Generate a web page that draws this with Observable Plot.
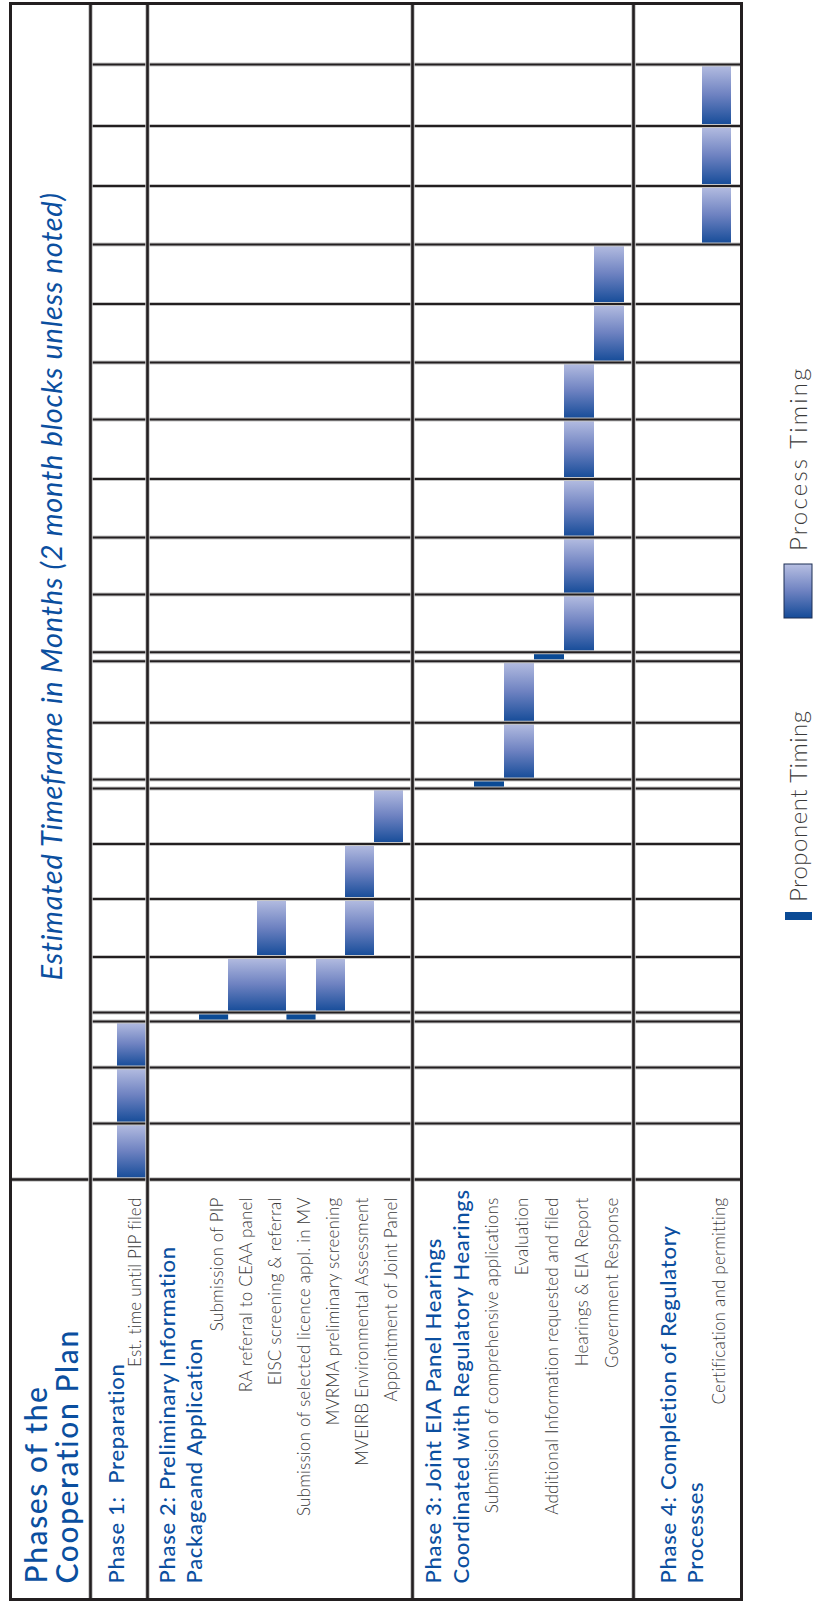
<!DOCTYPE html>
<html>
<head>
<meta charset="utf-8">
<script src="https://cdn.jsdelivr.net/npm/d3@7"></script>
<script src="https://cdn.jsdelivr.net/npm/@observablehq/plot@0.6"></script>
<style>
  html, body { margin: 0; padding: 0; background: #fff; }
  #wrap { position: relative; width: 814px; height: 1601px; }
  #legend { position: absolute; left: 0; top: 0; pointer-events: none; }
</style>
</head>
<body>
<div id="wrap"></div>
<script>
// ---------------- DATA ----------------
const headerTitle = "Phases of the\nCooperation Plan";
const timeTitle = "Estimated Timeframe in Months (2 month blocks unless noted)";

const phaseTitles = [
  "Phase 1:  Preparation",
  "Phase 2: Preliminary Information\nPackageand Application",
  "Phase 3: Joint EIA Panel Hearings\nCoordinated with Regulatory Hearings",
  "Phase 4: Completion of Regulatory\nProcesses"
];

const taskNames = [
  "Est. time until PIP filed",
  "Submission of PIP",
  "RA referral to CEAA panel",
  "EISC screening & referral",
  "Submission of selected licence appl. in MV",
  "MVRMA preliminary screening",
  "MVEIRB Environmental Assessment",
  "Appointment of Joint Panel",
  "Submission of comprehensive applications",
  "Evaluation",
  "Additional Information requested and filed",
  "Hearings & EIA Report",
  "Government Response",
  "Certification and permitting"
];
const taskPhase = [1, 2, 2, 2, 2, 2, 2, 2, 3, 3, 3, 3, 3, 4];

// Process timing: 2-month blocks (months from start)
const processTask = [
  "Est. time until PIP filed", "Est. time until PIP filed", "Est. time until PIP filed",
  "RA referral to CEAA panel",
  "EISC screening & referral", "EISC screening & referral",
  "MVRMA preliminary screening",
  "MVEIRB Environmental Assessment", "MVEIRB Environmental Assessment",
  "Appointment of Joint Panel",
  "Evaluation", "Evaluation",
  "Hearings & EIA Report", "Hearings & EIA Report", "Hearings & EIA Report", "Hearings & EIA Report", "Hearings & EIA Report",
  "Government Response", "Government Response",
  "Certification and permitting", "Certification and permitting", "Certification and permitting"
];
const processStart = [0, 2, 4, 6, 6, 8, 6, 8, 10, 12, 14, 16, 18, 20, 22, 24, 26, 28, 30, 32, 34, 36];
const processEnd   = [2, 4, 6, 8, 8, 10, 8, 10, 12, 14, 16, 18, 20, 22, 24, 26, 28, 30, 32, 34, 36, 38];

// Proponent timing: steps taken by the proponent between blocks
const proponentTask = [
  "Submission of PIP",
  "Submission of selected licence appl. in MV",
  "Submission of comprehensive applications",
  "Additional Information requested and filed"
];
const proponentMonth = [6, 6, 14, 18];

// Block edges of the time grid (months) and the breaks holding proponent steps
const blockEdges = [0, 2, 4, 6, 8, 10, 12, 14, 16, 18, 20, 22, 24, 26, 28, 30, 32, 34, 36, 38, 40];
const breakMonths = [6, 14, 18];

const legendLabels = ["Process Timing", "Proponent Timing"];

// ---------------- LAYOUT / STYLE ----------------
const blue = "#0b4f9f";
const labelGrey = "#3a3a3a";
const lineDark = "#231f20";
const halo = "#c4c4c4";
const propBlue = "#0a4a95";

const layout = {
  // x: lane units -> pixels (piecewise)
  xDomain: [-3.6, -0.9, 0, 1, 2, 9, 9.13, 10, 15, 15.12, 16, 17, 17.34],
  xRange:  [10, 90, 117, 147, 199, 403, 412, 474, 624, 633, 702, 731, 741],
  // y: months -> pixels (piecewise, following the uneven block heights)
  yRange: [1179, 1123, 1067, 1016.6, 956.4, 898.6, 843.6, 783.5, 722.3, 656.2, 594,
           537, 478.5, 419, 362, 303.5, 244, 185.5, 125.5, 64, 3.3],
  colBorders: [-0.9, 1, 9.13, 15.12],
  gridLeft: -0.9, gridRight: 17.34,
  gap: 4.5,
  headerX: -2.17, timeTitleX: -2.17,
  phaseTitleX: [-0.07, 1.62, 9.6, 15.72]
};

// lane index of each task (phases separated by one spacer lane)
const laneOf = new Map(taskNames.map((t, i) => [t, i + taskPhase[i] - 1]));

const processData = processTask.map((t, i) => ({
  task: t, lane: laneOf.get(t), start: processStart[i], end: processEnd[i]
}));
const proponentData = proponentTask.map((t, i) => ({
  task: t, lane: laneOf.get(t), month: proponentMonth[i]
}));

const isBreak = m => breakMonths.includes(m);
const procNormal = processData.filter(d => !isBreak(d.start) && !isBreak(d.end));
const procAfterBreak = processData.filter(d => isBreak(d.start));
const procBeforeBreak = processData.filter(d => isBreak(d.end) && !isBreak(d.start));

const innerEdges = blockEdges.filter(m => m > 0 && m < d3.max(blockEdges) && !isBreak(m));
const midMonth = d3.mean(d3.extent(blockEdges));

const gradId = "procGrad";
function defsMark() {
  const g = d3.create("svg:g");
  const lg = g.append("defs").append("linearGradient")
    .attr("id", gradId).attr("x1", 0).attr("y1", 0).attr("x2", 0).attr("y2", 1);
  lg.append("stop").attr("offset", 0).attr("stop-color", "#b7bfe2");
  lg.append("stop").attr("offset", 0.5).attr("stop-color", "#6e82c1");
  lg.append("stop").attr("offset", 1).attr("stop-color", "#144b98");
  return g.node();
}

const gridRule = (data, opts, w) => [
  Plot.ruleY(data, {...opts, stroke: halo, strokeWidth: w + 2}),
  Plot.ruleY(data, {...opts, stroke: lineDark, strokeWidth: w})
];

const rectOpts = {x1: "lane", x2: d => d.lane + 1, y1: "start", y2: "end",
                  fill: `url(#${gradId})`, shapeRendering: "crispEdges"};

const chart = Plot.plot({
  width: 814,
  height: 1601,
  marginLeft: 10, marginRight: 73, marginTop: 3, marginBottom: 2,
  x: {type: "linear", domain: layout.xDomain, range: layout.xRange, axis: null},
  y: {type: "linear", domain: blockEdges, range: layout.yRange, axis: null},
  style: {fontFamily: "Lato, 'Open Sans', sans-serif", background: "#fff", overflow: "visible"},
  marks: [
    defsMark,
    // process timing blocks
    Plot.rect(procNormal, rectOpts),
    Plot.rect(procAfterBreak, {...rectOpts, insetBottom: layout.gap}),
    Plot.rect(procBeforeBreak, {...rectOpts, insetTop: layout.gap}),
    // proponent timing steps
    Plot.ruleY(proponentData, {y: "month", x1: "lane", x2: d => d.lane + 1, stroke: propBlue, strokeWidth: 2 * layout.gap}),
    // grid
    ...gridRule(innerEdges, {x1: layout.gridLeft, x2: layout.gridRight}, 2),
    ...gridRule(breakMonths, {x1: layout.gridLeft, x2: layout.gridRight, dy: -layout.gap}, 2),
    ...gridRule(breakMonths, {x1: layout.gridLeft, x2: layout.gridRight, dy: layout.gap}, 2),
    ...gridRule([d3.min(blockEdges)], {}, 2.5),
    Plot.ruleX(layout.colBorders, {stroke: halo, strokeWidth: 4.5}),
    Plot.ruleX(layout.colBorders, {stroke: lineDark, strokeWidth: 2.6}),
    Plot.frame({stroke: lineDark, strokeWidth: 3}),
    // texts
    Plot.text([headerTitle], {
      text: d => d, x: layout.headerX, frameAnchor: "bottom", dy: -16,
      rotate: -90, textAnchor: "start", lineAnchor: "middle", lineHeight: 1.02,
      fontSize: 30, fontWeight: 500, fill: blue, ariaLabel: () => "header-title"
    }),
    Plot.text([timeTitle], {
      text: d => d, x: layout.timeTitleX, y: midMonth, dy: -8,
      rotate: -90, textAnchor: "middle", lineAnchor: "middle",
      fontSize: 29, fontStyle: "italic", fill: blue, ariaLabel: () => "time-title"
    }),
    Plot.text(phaseTitles, {
      text: d => d, x: (d, i) => layout.phaseTitleX[i], frameAnchor: "bottom", dy: -16,
      rotate: -90, textAnchor: "start", lineAnchor: "middle", lineHeight: 1.25,
      fontSize: 22, fontWeight: 500, fill: blue, ariaLabel: () => "phase-title"
    }),
    Plot.text(taskNames, {
      text: d => d, x: d => laneOf.get(d) + 0.5, y: d3.min(blockEdges), dy: 18, dx: 3,
      rotate: -90, textAnchor: "end", lineAnchor: "middle",
      fontSize: 17, fontWeight: 300, fill: labelGrey, ariaLabel: () => "task-label"
    })
  ]
});

document.getElementById("wrap").appendChild(chart);
const spacing = {"header-title": "1.6px", "time-title": "0.7px", "phase-title": "0.7px", "task-label": "0.2px"};
d3.select(chart).selectAll("text").each(function() {
  const el = this;
  const own = el.getAttribute("aria-label");
  const parent = el.parentNode && el.parentNode.getAttribute ? el.parentNode.getAttribute("aria-label") : null;
  const key = spacing[own] ? own : (spacing[parent] ? parent : null);
  if (key) el.setAttribute("letter-spacing", spacing[key]);
});

// ---------------- LEGEND (right side, rotated like the table) ----------------
const lg = d3.select("#wrap").append("svg").attr("id", "legend")
  .attr("width", 814).attr("height", 1601);
const lgDefs = lg.append("defs").append("linearGradient")
  .attr("id", "legGrad").attr("x1", 0).attr("y1", 0).attr("x2", 0).attr("y2", 1);
lgDefs.append("stop").attr("offset", 0).attr("stop-color", "#b7bfe2");
lgDefs.append("stop").attr("offset", 0.5).attr("stop-color", "#6e82c1");
lgDefs.append("stop").attr("offset", 1).attr("stop-color", "#144b98");

const legendItems = [
  {label: legendLabels[0], sx: 784, sy: 564, sw: 28, sh: 54, fill: "url(#legGrad)", stroke: "#1d2f55", ty: 551, ls: "2.2px"},
  {label: legendLabels[1], sx: 785, sy: 912, sw: 27, sh: 8, fill: propBlue, stroke: "none", ty: 902, ls: "0.5px"}
];
legendItems.forEach(it => {
  lg.append("rect").attr("x", it.sx).attr("y", it.sy).attr("width", it.sw).attr("height", it.sh)
    .attr("fill", it.fill).attr("stroke", it.stroke).attr("stroke-width", 1);
  lg.append("text").text(it.label)
    .attr("transform", `translate(799,${it.ty}) rotate(-90)`)
    .attr("dy", "0.32em")
    .attr("font-family", "Lato, 'Open Sans', sans-serif")
    .attr("font-size", 24).attr("font-weight", 300)
    .attr("letter-spacing", it.ls)
    .attr("fill", labelGrey);
});
</script>
</body>
</html>
